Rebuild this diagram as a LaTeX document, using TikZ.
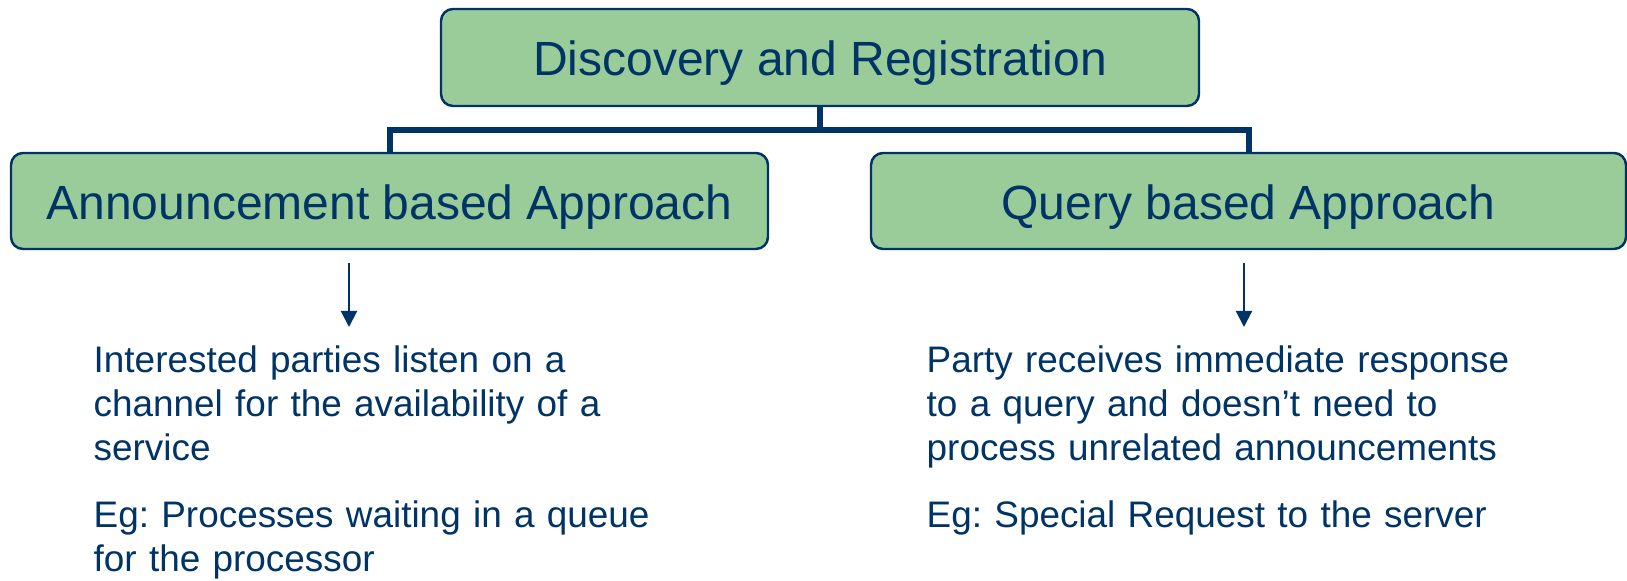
\documentclass[tikz,border=0pt]{standalone}
\usepackage{fontspec}
\setmainfont{Liberation Sans}
\usepackage{tikz}
\usetikzlibrary{arrows.meta}
\frenchspacing

\definecolor{navy}{HTML}{003366}
\definecolor{leaf}{HTML}{99CC99}

\begin{document}
\begin{tikzpicture}[
		box/.style={rectangle, rounded corners=0.12cm, draw=navy, line width=0.7pt, fill=leaf,
			text=navy, inner sep=0pt, minimum height=0.96cm, text height=10.4pt, text depth=0pt,
			font=\fontsize{13.66pt}{16pt}\selectfont},
		note/.style={anchor=base west, inner sep=0pt, text=navy, text width=6.2cm, align=left,
			font=\fontsize{10.5pt}{12.52pt}\selectfont},
		tree/.style={draw=navy, line width=0.06cm},
		pointer/.style={draw=navy, line width=0.6pt, -{Triangle[width=0.16cm, length=0.16cm]}}
	]
  \useasboundingbox (0cm, 0cm) rectangle (16.27cm, -5.81cm);
  \node (disc) [box, minimum width=7.58cm, minimum height=0.97cm] at (8.20cm, -0.575cm) {Discovery and Registration};
  \node (ann) [box, minimum width=7.57cm] at (3.895cm, -2.01cm) {Announcement based Approach};
  \node (qry) [box, minimum width=7.55cm] at (12.485cm, -2.01cm) {Query based Approach};
  \coordinate (split) at (8.20cm, -1.30cm);
  \draw[tree] (disc) -- (split) -| (ann);
  \draw[tree] (split) -| (qry);
  \coordinate (ann_from) at (3.49cm, -2.63cm);
  \coordinate (ann_to) at (3.49cm, -3.27cm);
  \coordinate (qry_from) at (12.44cm, -2.63cm);
  \coordinate (qry_to) at (12.44cm, -3.27cm);
  \draw[pointer] (ann_from) -- (ann_to);
  \draw[pointer] (qry_from) -- (qry_to);
  \node (ann_desc) [note] at (0.93cm, -3.73cm) {Interested parties listen on a\\channel for the availability of a\\service};
  \node (ann_eg) [note] at (0.93cm, -5.28cm) {Eg: Processes waiting in a queue\\for the processor};
  \node (qry_desc) [note] at (9.26cm, -3.73cm) {Party receives immediate response\\to a query and doesn’t need to\\process unrelated announcements};
  \node (qry_eg) [note] at (9.26cm, -5.28cm) {Eg: Special Request to the server};
\end{tikzpicture}
\end{document}
